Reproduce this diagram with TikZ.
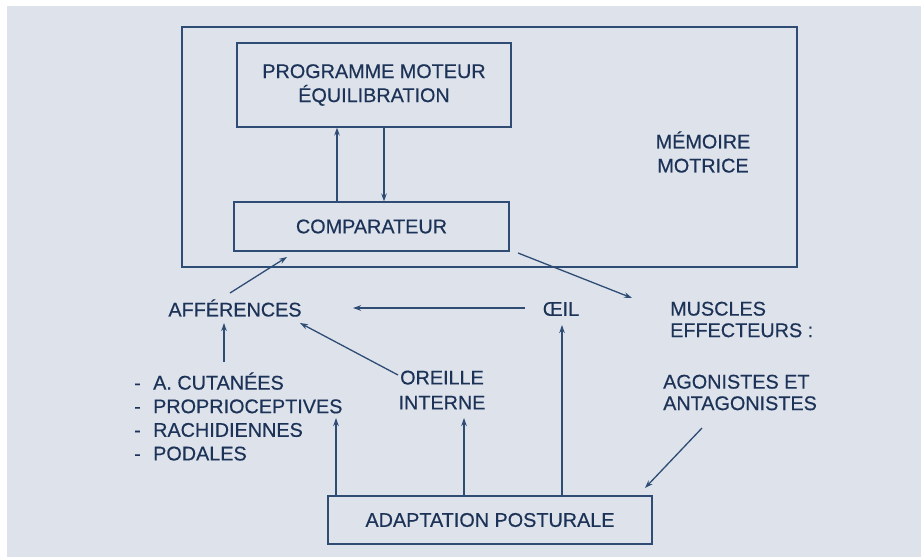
\documentclass[tikz,border=0pt]{standalone}
\usepackage{fontspec}
\setmainfont{Liberation Sans}[FakeBold=0.4]
\usetikzlibrary{arrows.meta}
\definecolor{bgc}{RGB}{221,226,235}
\definecolor{linec}{RGB}{46,76,116}
\definecolor{textc}{RGB}{28,50,86}
\begin{document}
\begin{tikzpicture}[x=1pt,y=-1pt,
  every node/.style={text=textc,font=\fontsize{19.8}{24}\selectfont,inner sep=0pt},
  box/.style={draw=linec,line width=1.2pt,align=center},
  lbl/.style={align=center},
  arr/.style={draw=linec,line width=1.3pt,-{Stealth[length=8pt,width=5.5pt]}}]
\useasboundingbox (0,0) rectangle (923,557);
\fill[white] (0,0) rectangle (923,557);
\fill[bgc] (7,6) rectangle (921,557);
% boxes
\node[box,minimum width=615pt,minimum height=240pt] (mem) at (489.5,147) {};
\node[box,minimum width=274pt,minimum height=84pt] (prog) at (374,85) {PROGRAMME MOTEUR\\ÉQUILIBRATION};
\node[box,minimum width=275pt,minimum height=49pt] (comp) at (371.5,226.5) {COMPARATEUR};
\node[box,minimum width=324pt,minimum height=48pt] (adapt) at (490,520) {ADAPTATION POSTURALE};
% labels
\node[lbl] (memtxt) at (703,152) {MÉMOIRE\\MOTRICE};
\node[lbl] (aff) at (235,308) {AFFÉRENCES};
\node[lbl] (oeil) at (561,309) {ŒIL};
\node[align=left,anchor=west,font=\fontsize{19.8}{21.5}\selectfont] (musc) at (670,319.5) {MUSCLES\\EFFECTEURS :};
\node[align=left,anchor=west,font=\fontsize{19.8}{21.5}\selectfont] (agon) at (663,392.5) {AGONISTES ET\\ANTAGONISTES};
\node[lbl,font=\fontsize{19.8}{25}\selectfont] (oreille) at (442,390) {OREILLE\\INTERNE};
\node[align=left,anchor=west,font=\fontsize{19.8}{23.6}\selectfont] (list) at (134,416.5)
  {\makebox[19pt][l]{-}A. CUTANÉES\\\makebox[19pt][l]{-}PROPRIOCEPTIVES\\\makebox[19pt][l]{-}RACHIDIENNES\\\makebox[19pt][l]{-}PODALES};
% connectors
\draw[arr] ([shift={(-34.5,0)}]comp.north) -- ([shift={(-37,0)}]prog.south);
\draw[arr] ([shift={(10,0)}]prog.south) -- ([shift={(12.5,0)}]comp.north);
\draw[arr] ([shift={(-5,-15)}]aff.center) -- ([shift={(-84.5,30.5)}]comp.center);
\draw[arr] ([shift={(-36,-1)}]oeil.center) -- ([shift={(118,0)}]aff.center);
\draw[arr] ([shift={(146.5,26.5)}]comp.center) -- ([shift={(-38,-21.5)}]musc.west);
\draw[arr] ([shift={(-44,-15)}]oreille.center) -- ([shift={(65,15)}]aff.center);
\draw[arr] ([shift={(90,-54.5)}]list.west) -- ([shift={(-11,15)}]aff.center);
\draw[arr] ([shift={(-154,0)}]adapt.north) -- ([shift={(202,1.5)}]list.west);
\draw[arr] ([shift={(-26,0)}]adapt.north) -- ([shift={(22,28)}]oreille.center);
\draw[arr] ([shift={(72,0)}]adapt.north) -- ([shift={(1,16)}]oeil.center);
\draw[arr] ([shift={(39,35.5)}]agon.west) -- ([shift={(155,-32)}]adapt.center);
\end{tikzpicture}
\end{document}
